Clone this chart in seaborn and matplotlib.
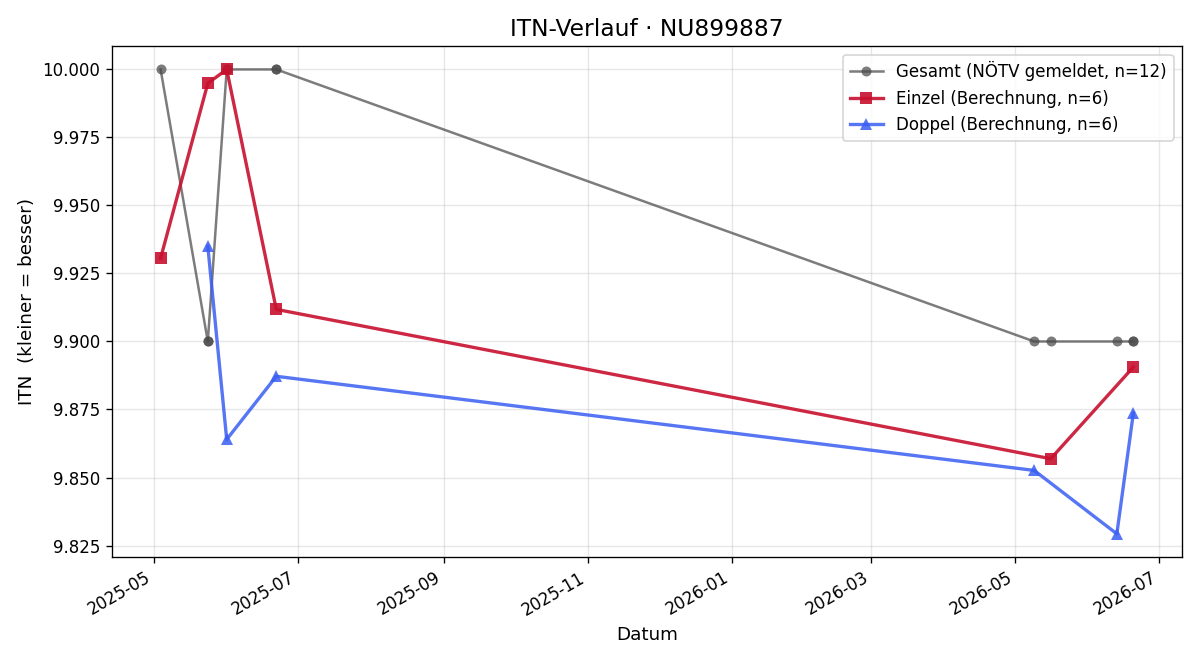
import matplotlib
matplotlib.use("Agg")
import matplotlib.pyplot as plt
import matplotlib.dates as mdates
import pandas as pd
import seaborn as sns

gesamt_dates = ["2025-05-04", "2025-05-24", "2025-05-24", "2025-06-01", "2025-06-01",
                "2025-06-22", "2025-06-22", "2026-05-09", "2026-05-16", "2026-06-13",
                "2026-06-20", "2026-06-20"]
gesamt_vals = [10.0, 9.9, 9.9, 10.0, 10.0, 10.0, 10.0, 9.9, 9.9, 9.9, 9.9, 9.9]

einzel_dates = ["2025-05-04", "2025-05-24", "2025-06-01", "2025-06-22", "2026-05-16", "2026-06-20"]
einzel_vals = [9.9306, 9.9949, 10.0, 9.9118, 9.8569, 9.8906]

doppel_dates = ["2025-05-24", "2025-06-01", "2025-06-22", "2026-05-09", "2026-06-13", "2026-06-20"]
doppel_vals = [9.9350, 9.8640, 9.8872, 9.8526, 9.8293, 9.8737]

labels = ["Gesamt (NÖTV gemeldet, n=12)", "Einzel (Berechnung, n=6)", "Doppel (Berechnung, n=6)"]

fig, ax = plt.subplots(figsize=(10, 5.5), dpi=120)

df_g = pd.DataFrame({"Datum": pd.to_datetime(gesamt_dates), "ITN": gesamt_vals})
df_e = pd.DataFrame({"Datum": pd.to_datetime(einzel_dates), "ITN": einzel_vals})
df_d = pd.DataFrame({"Datum": pd.to_datetime(doppel_dates), "ITN": doppel_vals})

sns.lineplot(data=df_g, x="Datum", y="ITN", ax=ax, estimator=None, sort=False,
             color="#4a4a4a", alpha=0.72, linewidth=1.5, marker="o", markersize=6,
             markeredgewidth=0, label=labels[0])
sns.lineplot(data=df_e, x="Datum", y="ITN", ax=ax, estimator=None, sort=False,
             color="#C8102E", alpha=0.9, linewidth=2, marker="s", markersize=7,
             markeredgewidth=0, label=labels[1])
sns.lineplot(data=df_d, x="Datum", y="ITN", ax=ax, estimator=None, sort=False,
             color="#3A5EF2", alpha=0.85, linewidth=2, marker="^", markersize=7,
             markeredgewidth=0, label=labels[2])

ax.set_title("ITN-Verlauf · NU899887", fontsize=14)
ax.set_xlabel("Datum", fontsize=11)
ax.set_ylabel("ITN  (kleiner = besser)", fontsize=11)
ax.grid(True, alpha=0.3)
ax.xaxis.set_major_locator(mdates.MonthLocator(bymonth=[1, 3, 5, 7, 9, 11]))
ax.xaxis.set_major_formatter(mdates.DateFormatter("%Y-%m"))
ax.tick_params(labelsize=10)
ax.legend(loc="upper right", fontsize=10)
fig.autofmt_xdate()
fig.subplots_adjust(left=0.0933, right=0.985, top=0.930, bottom=0.156)
fig.savefig("out.png", dpi=120)
